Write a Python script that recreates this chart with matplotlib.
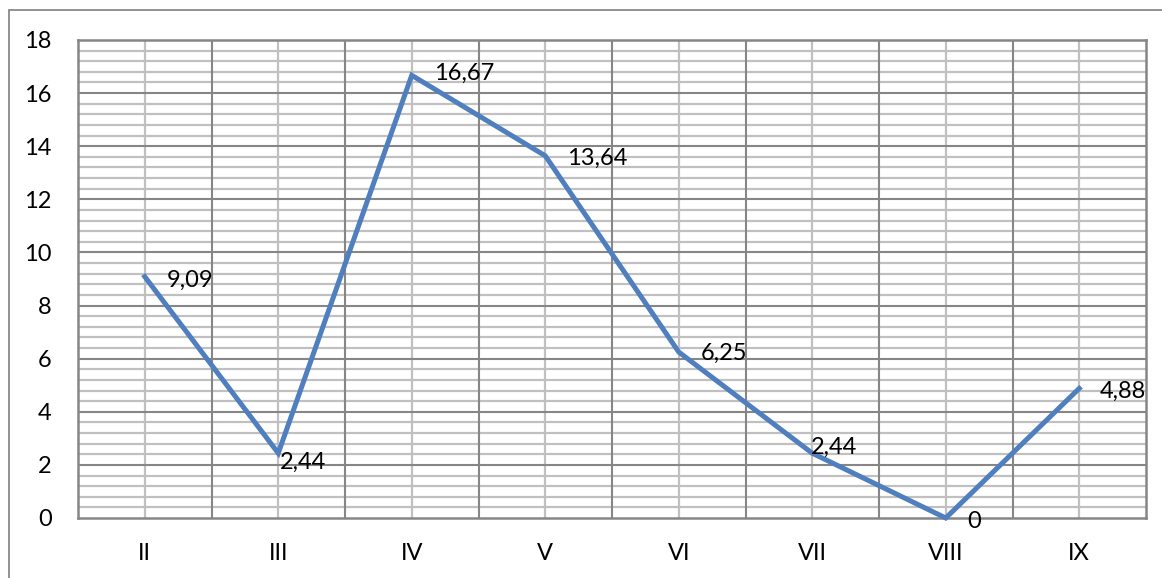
import matplotlib
matplotlib.use("Agg")
import matplotlib.pyplot as plt
from matplotlib.patches import Rectangle

plt.rcParams['font.family'] = ['Lato', 'DejaVu Sans']

months = ['II', 'III', 'IV', 'V', 'VI', 'VII', 'VIII', 'IX']
values = [9.09, 2.44, 16.67, 13.64, 6.25, 2.44, 0, 4.88]
labels = ['9,09', '2,44', '16,67', '13,64', '6,25', '2,44', '0', '4,88']
# label offsets in pixels (dx, dy) from each point
offsets = [(22, -4), (2, -9), (22, 2), (22, -3), (22, -1), (-1, 6), (22, -3), (21, -3)]

fig = plt.figure(figsize=(11.62, 5.78), dpi=100)
ax = fig.add_axes([78 / 1162, 60 / 578, 1068 / 1162, 478 / 578])

# outer chart frame (only top and left edges fall inside the image)
fig.patches.append(Rectangle((9 / 1162, -0.1), 1.2, (578 - 10) / 578 + 0.1,
                             transform=fig.transFigure, fill=False,
                             edgecolor='#898989', linewidth=1.3))

x = list(range(len(months)))
ax.set_xlim(-0.5, len(months) - 0.5)
ax.set_ylim(0, 18)

# minor horizontal gridlines every 0.4
y = 0.4
while y < 18:
    if abs(y / 2 - round(y / 2)) > 1e-6:
        ax.axhline(y, color='#c0c0c0', linewidth=1.6, zorder=1)
    y = round(y + 0.4, 2)
for yy in range(2, 19, 2):
    ax.axhline(yy, color='#868686', linewidth=1.5, zorder=1.5)
# vertical gridlines at category centers and boundaries
for xi in x:
    ax.axvline(xi, color='#c0c0c0', linewidth=1.6, zorder=1)
for xb in range(1, len(months)):
    ax.axvline(xb - 0.5, color='#868686', linewidth=1.5, zorder=1.5)

ax.plot(x, values, color='#4f7fbe', linewidth=3.6, solid_joinstyle='miter',
        zorder=3, clip_on=False)

for xi, v, lab, (dx, dy) in zip(x, values, labels, offsets):
    ax.annotate(lab, (xi, v), xytext=(dx, dy), textcoords='offset pixels',
                ha='left', va='center', fontsize=17, color='black', zorder=4)

ax.set_xticks(x)
ax.set_xticklabels(months)
ax.set_yticks(range(0, 19, 2))
ax.tick_params(axis='both', length=0, labelsize=17, colors='black')
ax.tick_params(axis='x', pad=18)
ax.tick_params(axis='y', pad=19)
for lab in ax.get_yticklabels():
    lab.set_horizontalalignment('right')

for side in ['top', 'right', 'bottom', 'left']:
    ax.spines[side].set_color('#868686')
    ax.spines[side].set_linewidth(1.8)
    ax.spines[side].set_zorder(2)

fig.savefig('out.png', dpi=100)
